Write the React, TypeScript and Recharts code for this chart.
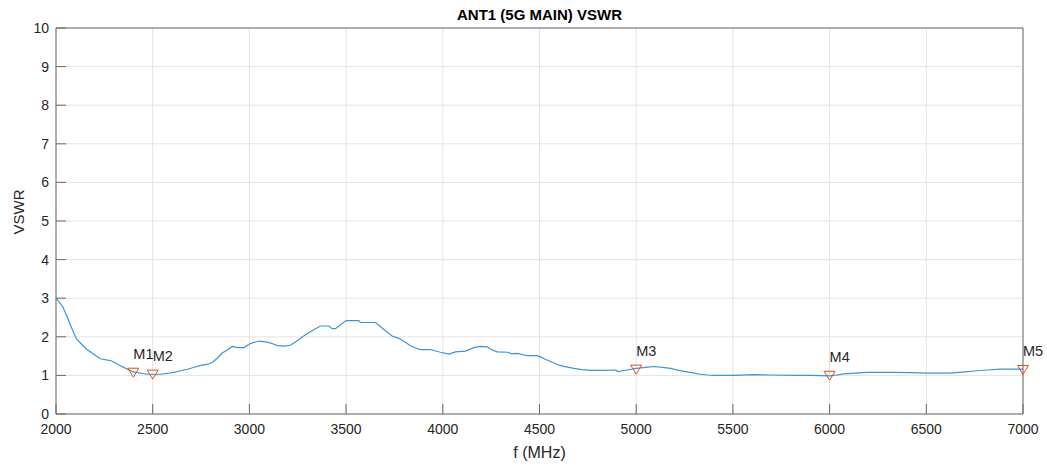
import React from "react";
import {
  CartesianGrid,
  ComposedChart,
  Line,
  Scatter,
  XAxis,
  YAxis
} from "recharts";

document.body.style.margin = "0";

// frequency (MHz) / VSWR
const freqs = [
  2000, 2020, 2035, 2055, 2080, 2105, 2130, 2160, 2195, 2230, 2260, 2285, 2315, 2345, 2370,
  2400, 2420, 2450, 2475, 2500, 2540, 2575, 2610, 2645, 2680, 2715, 2750, 2785, 2810, 2835,
  2860, 2885, 2912, 2938, 2972, 3007, 3050, 3093, 3120, 3145, 3180, 3212, 3247, 3275, 3298,
  3333, 3367, 3410, 3428, 3445, 3471, 3500, 3566, 3574, 3652, 3695, 3738, 3772, 3800, 3833,
  3860, 3884, 3936, 3988, 4031, 4065, 4117, 4160, 4195, 4229, 4255, 4281, 4333, 4359, 4384,
  4436, 4488, 4505, 4530, 4557, 4590, 4620, 4678, 4720, 4764, 4833, 4893, 4905, 4953, 5000,
  5050, 5091, 5135, 5178, 5220, 5264, 5300, 5333, 5370, 5402, 5505, 5609, 5700, 5814, 5900,
  6000, 6040, 6072, 6130, 6193, 6331, 6420, 6503, 6624, 6700, 6762, 6820, 6883, 6950, 7000
];
const vswr = [
  3.0, 2.88, 2.78, 2.55, 2.24, 1.95, 1.82, 1.67, 1.55, 1.43, 1.4, 1.38, 1.3, 1.22, 1.16,
  1.09, 1.07, 1.05, 1.03, 1.03, 1.03, 1.05, 1.08, 1.12, 1.16, 1.21, 1.26, 1.29, 1.34, 1.45,
  1.58, 1.66, 1.75, 1.72, 1.72, 1.83, 1.89, 1.86, 1.82, 1.77, 1.76, 1.78, 1.9, 2.0, 2.08,
  2.18, 2.28, 2.28, 2.21, 2.21, 2.31, 2.42, 2.42, 2.37, 2.37, 2.19, 2.02, 1.96, 1.88, 1.77,
  1.71, 1.67, 1.67, 1.6, 1.55, 1.61, 1.63, 1.72, 1.75, 1.74, 1.66, 1.61, 1.6, 1.56, 1.57,
  1.51, 1.51, 1.48, 1.42, 1.36, 1.29, 1.24, 1.18, 1.15, 1.13, 1.13, 1.14, 1.1, 1.14, 1.18,
  1.21, 1.23, 1.21, 1.18, 1.13, 1.09, 1.06, 1.03, 1.01, 1.0, 1.0, 1.02, 1.01, 1.0, 1.0,
  0.99, 1.01, 1.04, 1.06, 1.08, 1.08, 1.07, 1.06, 1.06, 1.09, 1.12, 1.14, 1.16, 1.16, 1.16
];

const markerNames = ["M1", "M2", "M3", "M4", "M5"];
const markerFreqs = [2400, 2500, 5000, 6000, 7000];
const markerValues = [1.07, 1.02, 1.15, 0.99, 1.14];

const xTicks = [2000, 2500, 3000, 3500, 4000, 4500, 5000, 5500, 6000, 6500, 7000];
const yTicks = [0, 1, 2, 3, 4, 5, 6, 7, 8, 9, 10];

const trace = freqs.map((f, i) => ({ f, v: vswr[i] }));
const markers = markerFreqs.map((f, i) => ({ f, v: markerValues[i], name: markerNames[i] }));

const axisColor = "#6b6b6b";
const textColor = "#262626";
const markerColor = "#D95319";

function MarkerShape(props: any) {
  const { cx, cy, payload } = props;
  if (cx == null || cy == null) return null;
  return (
    <g>
      <path
        d={`M${cx - 5.5},${cy - 4.5} L${cx + 5.5},${cy - 4.5} L${cx},${cy + 4.5} Z`}
        fill="none"
        stroke={markerColor}
        strokeWidth={1}
      />
      <text x={cx} y={cy - 13.5} fontSize={14.5} fill={textColor}>
        {payload.name}
      </text>
    </g>
  );
}

function YLabel(props: any) {
  const { viewBox } = props;
  const x = viewBox.x + 18;
  const y = viewBox.y + viewBox.height / 2 - 9;
  return (
    <text
      transform={`translate(${x},${y}) rotate(-90)`}
      textAnchor="middle"
      dominantBaseline="central"
      fontSize={15}
      fill={textColor}
    >
      VSWR
    </text>
  );
}

export default function App() {
  const tickStyle = { fontSize: 14, fill: textColor };
  return (
    <div style={{ width: 1047, height: 466, fontFamily: "'Liberation Sans', Arial, sans-serif", background: "#fff" }}>
      <ComposedChart width={1047} height={466} margin={{ top: 0, right: 0, bottom: 0, left: 0 }}>
        <CartesianGrid stroke="#e4e4e4" strokeWidth={1} />
        <XAxis
          dataKey="f"
          type="number"
          domain={[2000, 7000]}
          ticks={xTicks}
          interval={0}
          height={52}
          tickSize={-10}
          tickMargin={20}
          tick={tickStyle}
          stroke={axisColor}
          label={{ value: "f (MHz)", position: "insideBottom", offset: 8, fontSize: 16, fill: textColor }}
        />
        <XAxis
          xAxisId="top"
          dataKey="f"
          type="number"
          orientation="top"
          domain={[2000, 7000]}
          ticks={xTicks}
          interval={0}
          height={28}
          tickSize={-10}
          tick={false}
          stroke={axisColor}
          label={{
            value: "ANT1 (5G MAIN) VSWR",
            position: "center",
            dy: 1,
            fontSize: 15,
            fontWeight: "bold",
            fill: "#000"
          }}
        />
        <YAxis
          type="number"
          domain={[0, 10]}
          ticks={yTicks}
          interval={0}
          width={56}
          tickSize={-10}
          tickMargin={17}
          tick={tickStyle}
          stroke={axisColor}
          label={<YLabel />}
        />
        <YAxis
          yAxisId="right"
          type="number"
          orientation="right"
          domain={[0, 10]}
          ticks={yTicks}
          interval={0}
          width={24}
          tickSize={-10}
          tick={false}
          stroke={axisColor}
        />
        <Line
          data={trace}
          dataKey="v"
          type="linear"
          stroke="#3b95d8"
          strokeWidth={1.2}
          dot={false}
          activeDot={false}
          isAnimationActive={false}
        />
        <Scatter
          data={markers}
          dataKey="v"
          shape={<MarkerShape />}
          isAnimationActive={false}
        />
      </ComposedChart>
    </div>
  );
}
